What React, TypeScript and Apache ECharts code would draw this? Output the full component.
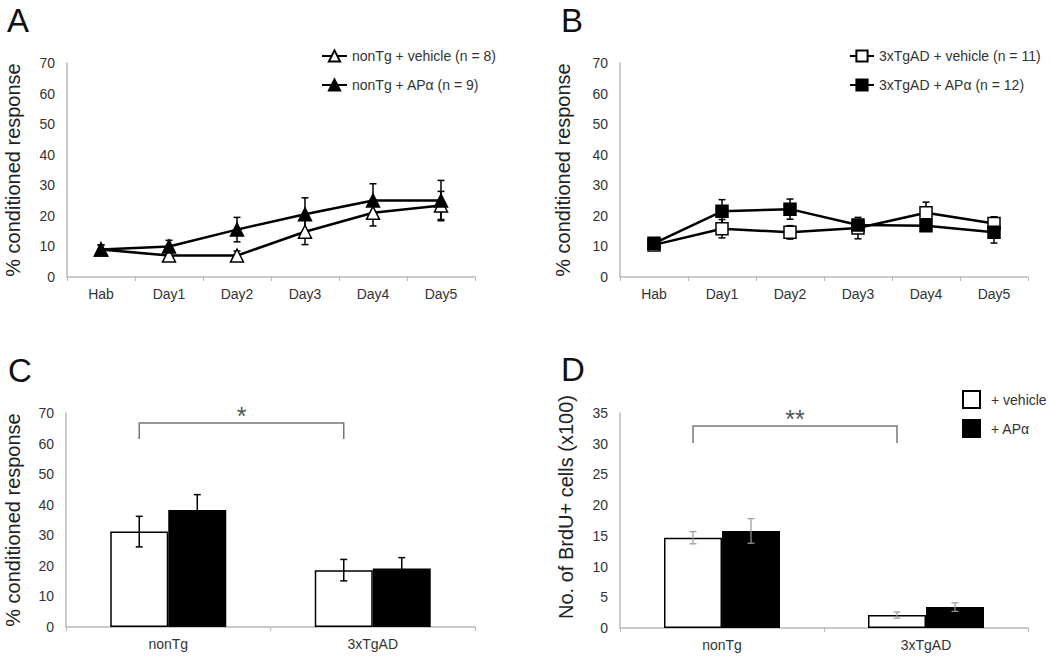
import React, { useEffect, useRef } from 'react';
import * as echarts from 'echarts';

// ---------- data ----------
const days = ['Hab', 'Day1', 'Day2', 'Day3', 'Day4', 'Day5'];
const nonTgVehicle = [9, 7, 7, 14.8, 21, 23.4];
const nonTgVehicleErr = [1.5, 1.2, 1.5, 4.2, 4.3, 4.6];
const nonTgAPa = [9, 10, 15.5, 20.5, 25, 25];
const nonTgAPaErr = [1.5, 2, 4, 5.4, 5.5, 6.6];

const tgVehicle = [10.5, 15.8, 14.6, 16, 21, 17.5];
const tgVehicleErr = [1, 3, 2.2, 3.5, 3.5, 2.2];
const tgAPa = [11, 21.5, 22.2, 17, 16.8, 14.6];
const tgAPaErr = [1, 3.8, 3.3, 1.5, 1.5, 3.5];

const groups = ['nonTg', '3xTgAD'];
const crVehicle = [31.2, 18.6];
const crVehicleErr = [5, 3.5];
const crAPa = [38.3, 19.1];
const crAPaErr = [5, 3.6];

const brduVehicle = [14.7, 2.1];
const brduVehicleErr = [1, 0.5];
const brduAPa = [15.8, 3.4];
const brduAPaErr = [2, 0.7];

// bracket: [from category, to category, top value, bottom value]
const bracketC = [0, 1, 66.7, 61.5];
const bracketCLabel = '*';
const bracketD = [0, 1, 32.9, 30.1];
const bracketDLabel = '**';

const lineTicks = { min: 0, max: 70, interval: 10 };
const brduTicks = { min: 0, max: 35, interval: 5 };

const legendA = ['nonTg + vehicle (n = 8)', 'nonTg + APα (n = 9)'];
const legendB = ['3xTgAD + vehicle (n = 11)', '3xTgAD + APα (n = 12)'];
const legendD = ['+ vehicle', '+ APα'];
const yTitleCR = '% conditioned response';
const yTitleBrdU = 'No. of BrdU+ cells (x100)';

// ---------- styling ----------
const FONT = 'Liberation Sans, Arial, Helvetica, sans-serif';
const AXIS_GRAY = '#b8b8b8';
const TEXT = '#333';
const BAR_W = 58;

function errorSeries(xi: number, yi: number, means: number[], errs: number[], offset: number, color: string, cap: number, width: number, z: number) {
  return {
    type: 'custom',
    xAxisIndex: xi,
    yAxisIndex: yi,
    z,
    silent: true,
    clip: false,
    data: means.map((m, i) => [i, m - errs[i], m + errs[i]]),
    renderItem: (params: any, api: any) => {
      const lo = api.coord([api.value(0), api.value(1)]);
      const hi = api.coord([api.value(0), api.value(2)]);
      const x = lo[0] + offset;
      const style = { stroke: color, lineWidth: width };
      return {
        type: 'group',
        children: [
          { type: 'line', shape: { x1: x, y1: lo[1], x2: x, y2: hi[1] }, style },
          { type: 'line', shape: { x1: x - cap, y1: hi[1], x2: x + cap, y2: hi[1] }, style },
          { type: 'line', shape: { x1: x - cap, y1: lo[1], x2: x + cap, y2: lo[1] }, style },
        ],
      };
    },
  };
}

function bracketSeries(xi: number, yi: number, b: number[], label: string) {
  return {
    type: 'custom',
    xAxisIndex: xi,
    yAxisIndex: yi,
    z: 5,
    silent: true,
    clip: false,
    data: [b],
    renderItem: (params: any, api: any) => {
      const a = api.coord([api.value(0), api.value(2)]);
      const c = api.coord([api.value(1), api.value(2)]);
      const bot = api.coord([api.value(0), api.value(3)]);
      const x1 = a[0] - BAR_W / 2;
      const x2 = c[0] - BAR_W / 2;
      const yt = a[1];
      const yb = bot[1];
      return {
        type: 'group',
        children: [
          {
            type: 'polyline',
            shape: { points: [[x1, yb], [x1, yt], [x2, yt], [x2, yb]] },
            style: { stroke: '#777', lineWidth: 1.5, fill: 'none' },
          },
          {
            type: 'text',
            x: (x1 + x2) / 2,
            y: yt - 7,
            style: { text: label, fontSize: 25, fontFamily: FONT, fill: '#555', align: 'center', verticalAlign: 'middle' },
          },
        ],
      };
    },
  };
}

function xCat(gi: number, data: string[]) {
  return {
    type: 'category',
    gridIndex: gi,
    data,
    boundaryGap: true,
    axisLine: { show: true, lineStyle: { color: AXIS_GRAY, width: 1.5 } },
    axisTick: { show: true, length: 4, lineStyle: { color: AXIS_GRAY } },
    axisLabel: { color: TEXT, fontSize: 14, fontFamily: FONT, margin: 10 },
  };
}

function yVal(gi: number, ticks: any, name: string, gap: number) {
  return {
    type: 'value',
    gridIndex: gi,
    min: ticks.min,
    max: ticks.max,
    interval: ticks.interval,
    splitLine: { show: false },
    axisLine: { show: true, lineStyle: { color: AXIS_GRAY, width: 1.5 } },
    axisTick: { show: false },
    axisLabel: { color: TEXT, fontSize: 14, fontFamily: FONT, margin: 12 },
    name,
    nameLocation: 'middle',
    nameRotate: 90,
    nameGap: gap,
    nameTextStyle: { color: '#222', fontSize: 20, fontFamily: FONT },
  };
}

function lineSeries(name: string, xi: number, data: number[], symbol: string, filled: boolean, size: number) {
  return {
    type: 'line',
    name,
    xAxisIndex: xi,
    yAxisIndex: xi,
    data,
    symbol,
    symbolSize: size,
    z: 4,
    lineStyle: { color: '#000', width: 2.5 },
    itemStyle: { color: filled ? '#000' : '#fff', borderColor: '#000', borderWidth: 1.5 },
  };
}

function barSeries(name: string, gi: number, data: number[], filled: boolean) {
  return {
    type: 'bar',
    name,
    xAxisIndex: gi,
    yAxisIndex: gi,
    data,
    barWidth: BAR_W,
    barGap: '0%',
    z: 2,
    itemStyle: { color: filled ? '#000' : '#fff', borderColor: '#000', borderWidth: 1.5 },
  };
}

function letter(t: string, x: number, y: number) {
  return {
    type: 'text',
    left: x,
    top: y,
    style: { text: t, fontSize: 33, fontFamily: FONT, fill: '#111' },
  };
}

export default function App() {
  const ref = useRef<HTMLDivElement>(null);
  useEffect(() => {
    if (!ref.current) return;
    const chart = echarts.init(ref.current, null, { renderer: 'svg' });
    const legendText = { color: TEXT, fontSize: 14, fontFamily: FONT };
    chart.setOption({
      animation: false,
      backgroundColor: '#fff',
      textStyle: { fontFamily: FONT },
      grid: [
        { left: 67, top: 63, width: 408, height: 214 },
        { left: 620, top: 63, width: 408, height: 214 },
        { left: 66, top: 413, width: 409, height: 214 },
        { left: 620, top: 413, width: 408, height: 215 },
      ],
      xAxis: [xCat(0, days), xCat(1, days), xCat(2, groups), xCat(3, groups)],
      yAxis: [
        yVal(0, lineTicks, yTitleCR, 44),
        yVal(1, lineTicks, yTitleCR, 47),
        yVal(2, lineTicks, yTitleCR, 43),
        yVal(3, brduTicks, '', 47),
      ],
      legend: [
        {
          data: legendA, left: 321, top: 49, orient: 'vertical', itemGap: 15, padding: 0,
          itemWidth: 25, itemHeight: 14, selectedMode: false, textStyle: legendText,
        },
        {
          data: legendB, left: 849, top: 49, orient: 'vertical', itemGap: 15, padding: 0,
          itemWidth: 24, itemHeight: 14, selectedMode: false, textStyle: legendText,
        },
        {
          data: legendD, left: 962, top: 390, orient: 'vertical', itemGap: 10, padding: 0,
          itemWidth: 17, itemHeight: 17, icon: 'rect', selectedMode: false,
          textStyle: { ...legendText, padding: [0, 0, 0, 6] },
        },
      ],
      graphic: [
        letter('A', 7, 4),
        letter('B', 561, 4),
        letter('C', 8, 354),
        letter('D', 561, 353),
        {
          type: 'text',
          x: 566,
          y: 507,
          rotation: Math.PI / 2,
          style: { text: yTitleBrdU, fontSize: 20, fontFamily: FONT, fill: '#222', align: 'center', verticalAlign: 'middle' },
        },
      ],
      series: [
        errorSeries(0, 0, nonTgVehicle, nonTgVehicleErr, 0, '#000', 3.5, 1.5, 2),
        errorSeries(0, 0, nonTgAPa, nonTgAPaErr, 0, '#000', 3.5, 1.5, 2),
        lineSeries(legendA[0], 0, nonTgVehicle, 'triangle', false, 13),
        lineSeries(legendA[1], 0, nonTgAPa, 'triangle', true, 13),

        errorSeries(1, 1, tgVehicle, tgVehicleErr, 0, '#000', 3.5, 1.5, 2),
        errorSeries(1, 1, tgAPa, tgAPaErr, 0, '#000', 3.5, 1.5, 2),
        lineSeries(legendB[0], 1, tgVehicle, 'rect', false, 12),
        lineSeries(legendB[1], 1, tgAPa, 'rect', true, 12),

        barSeries(legendD[0], 2, crVehicle, false),
        barSeries(legendD[1], 2, crAPa, true),
        errorSeries(2, 2, crVehicle, crVehicleErr, -BAR_W / 2, '#000', 3.5, 1.5, 3),
        errorSeries(2, 2, crAPa, crAPaErr, BAR_W / 2, '#000', 3.5, 1.5, 3),
        bracketSeries(2, 2, bracketC, bracketCLabel),

        barSeries(legendD[0], 3, brduVehicle, false),
        barSeries(legendD[1], 3, brduAPa, true),
        errorSeries(3, 3, brduVehicle, brduVehicleErr, -BAR_W / 2, '#999', 3.5, 1.2, 3),
        errorSeries(3, 3, brduAPa, brduAPaErr, BAR_W / 2, '#999', 3.5, 1.2, 3),
        bracketSeries(3, 3, bracketD, bracketDLabel),
      ],
    });
    return () => chart.dispose();
  }, []);
  return (
    <div
      ref={ref}
      style={{ position: 'absolute', left: 0, top: 0, width: 1050, height: 657, background: '#fff' }}
    />
  );
}
